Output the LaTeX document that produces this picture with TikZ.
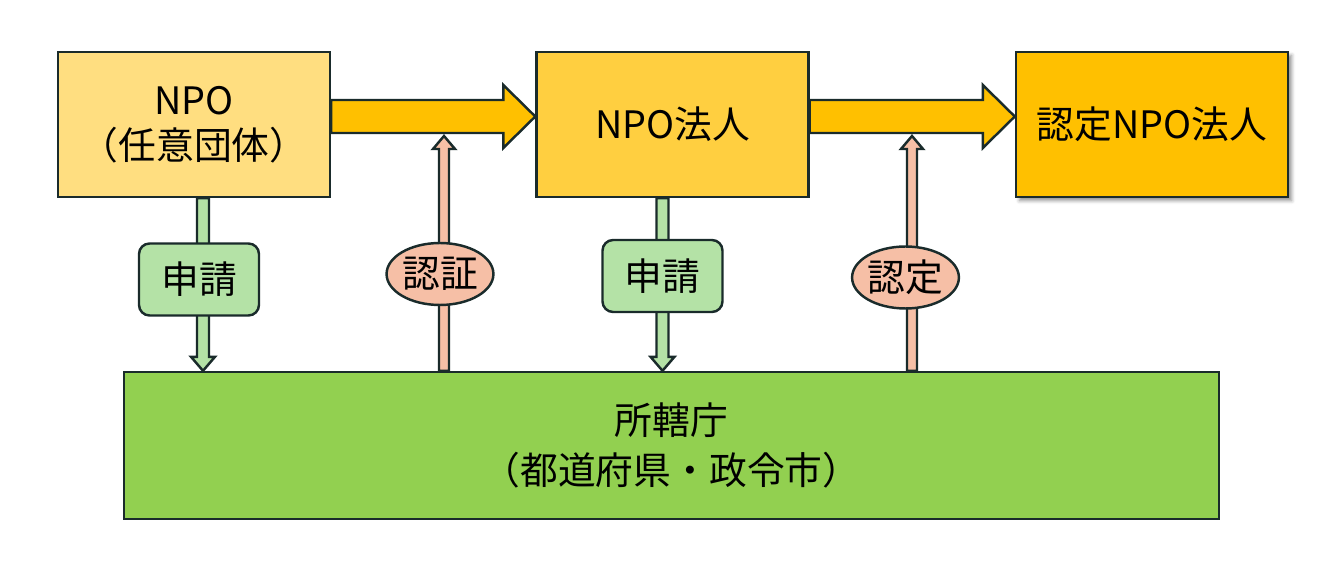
\documentclass[tikz,border=0pt]{standalone}
\usepackage{fontspec}
\setmainfont{Noto Sans CJK JP}
\usepackage{xcolor}
\usepackage{tikz}
\usetikzlibrary{calc,shapes.geometric,shadows.blur}

\definecolor{edge}{HTML}{1A2B2B}
\definecolor{npoyellow}{HTML}{FFDE80}
\definecolor{corpyellow}{HTML}{FFCF40}
\definecolor{flowgold}{HTML}{FFC000}
\definecolor{officegreen}{HTML}{92D050}
\definecolor{applygreen}{HTML}{B4E2A6}
\definecolor{grantpink}{HTML}{F6BFA6}

\begin{document}
\begin{tikzpicture}[
    x=0.02cm, y=-0.02cm,
    every node/.style={font=\fontsize{21.5}{25.5}\selectfont},
    stage/.style={draw=edge,line width=1.4pt,align=center,minimum width=5.44cm,minimum height=2.9cm},
    apply/.style={draw=edge,line width=1.4pt,rounded corners=6pt,fill=applygreen,minimum width=2.4cm,minimum height=1.44cm},
    grant/.style={draw=edge,line width=1.4pt,ellipse,fill=grantpink,minimum width=2.08cm,minimum height=1.24cm,inner sep=0pt},
    bigflow/.style={draw=edge,line width=1.4pt,fill=flowgold,line join=miter},
    thinflow/.style={draw=edge,line width=1.4pt,line join=miter}
]
\useasboundingbox (0,0) rectangle (1340,570);

\node[stage,fill=npoyellow] (npo) at (194,124.5) {NPO\\（任意団体）};
\node[stage,fill=corpyellow] (corp) at (672.5,124.5) {NPO法人};
\node[stage,fill=flowgold,blur shadow={shadow xshift=2pt,shadow yshift=-2pt,shadow opacity=45}] (cert) at (1152,124.5) {認定NPO法人};
\node[stage,fill=officegreen,minimum width=21.9cm,minimum height=2.94cm,
      font=\fontsize{21.5}{28.5}\selectfont] (office) at (671.5,445.5) {所轄庁\\（都道府県・政令市）};

% stage arrows
\coordinate (b1s) at ($(npo.east)+(0,-8)$);
\coordinate (b1e) at ($(corp.west)+(0,-8)$);
\draw[bigflow] ($(b1s)+(0,-16.5)$) -- ($(b1e)+(-32,-16.5)$) -- ($(b1e)+(-32,-31.5)$) -- (b1e)
    -- ($(b1e)+(-32,31.5)$) -- ($(b1e)+(-32,16.5)$) -- ($(b1s)+(0,16.5)$) -- cycle;
\coordinate (b2s) at ($(corp.east)+(0,-8)$);
\coordinate (b2e) at ($(cert.west)+(0,-8)$);
\draw[bigflow] ($(b2s)+(0,-16.5)$) -- ($(b2e)+(-32,-16.5)$) -- ($(b2e)+(-32,-31.5)$) -- (b2e)
    -- ($(b2e)+(-32,31.5)$) -- ($(b2e)+(-32,16.5)$) -- ($(b2s)+(0,16.5)$) -- cycle;

% applications (down)
\coordinate (s1) at ($(npo.south)+(9,0)$);
\coordinate (e1) at (s1 |- office.north);
\draw[thinflow,fill=applygreen] ($(s1)+(-6,0)$) -- ($(e1)+(-6,-14)$) -- ($(e1)+(-12,-14)$) -- (e1)
    -- ($(e1)+(12,-14)$) -- ($(e1)+(6,-14)$) -- ($(s1)+(6,0)$) -- cycle;
\coordinate (s2) at ($(corp.south)+(-10,0)$);
\coordinate (e2) at (s2 |- office.north);
\draw[thinflow,fill=applygreen] ($(s2)+(-6,0)$) -- ($(e2)+(-6,-14)$) -- ($(e2)+(-12,-14)$) -- (e2)
    -- ($(e2)+(12,-14)$) -- ($(e2)+(6,-14)$) -- ($(s2)+(6,0)$) -- cycle;

% approvals (up)
\coordinate (t1) at (444,136);
\coordinate (u1) at (t1 |- office.north);
\draw[thinflow,fill=grantpink] ($(u1)+(-5,0)$) -- ($(t1)+(-5,13)$) -- ($(t1)+(-11,13)$) -- (t1)
    -- ($(t1)+(11,13)$) -- ($(t1)+(5,13)$) -- ($(u1)+(5,0)$) -- cycle;
\coordinate (t2) at (912,136);
\coordinate (u2) at (t2 |- office.north);
\draw[thinflow,fill=grantpink] ($(u2)+(-5,0)$) -- ($(t2)+(-5,13)$) -- ($(t2)+(-11,13)$) -- (t2)
    -- ($(t2)+(11,13)$) -- ($(t2)+(5,13)$) -- ($(u2)+(5,0)$) -- cycle;

\node[apply] (req1) at (199,279.5) {申請};
\node[apply] (req2) at (662.5,276) {申請};
\node[grant] (ok1) at (440,274) {認証};
\node[grant] (ok2) at (905.5,277.5) {認定};
\end{tikzpicture}
\end{document}
